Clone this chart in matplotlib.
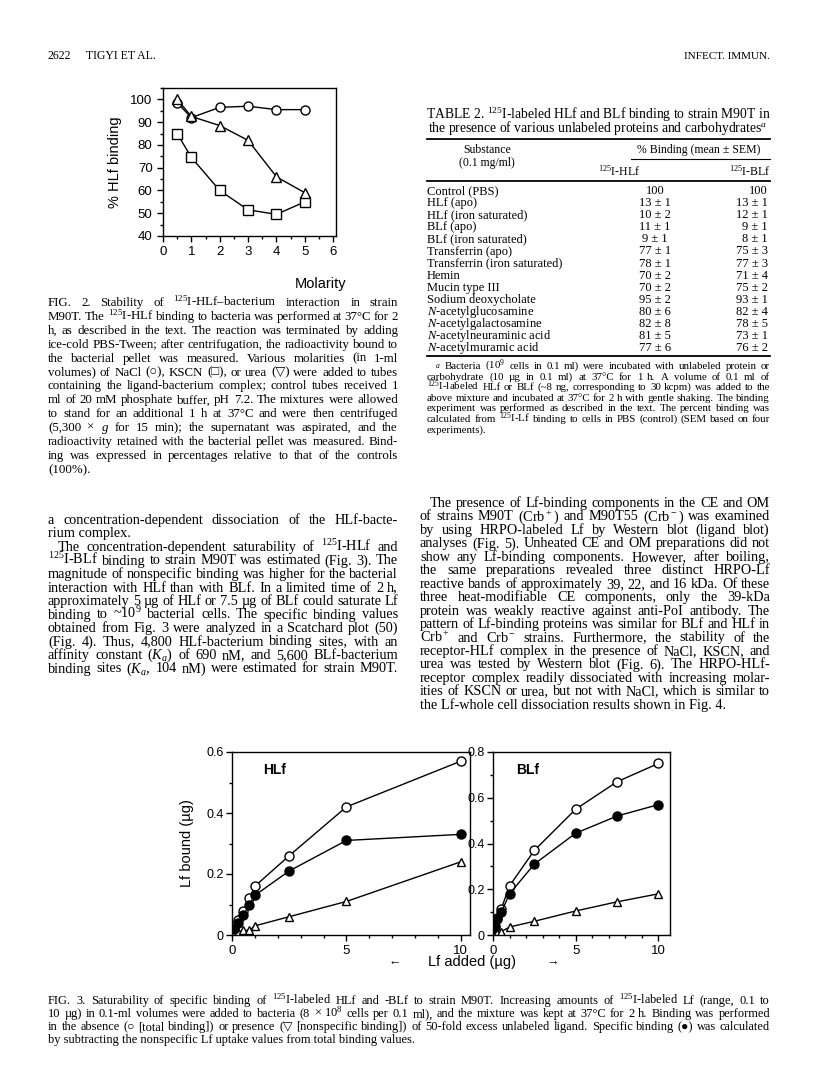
import matplotlib
matplotlib.use('Agg')
import matplotlib.pyplot as plt
import numpy as np
from matplotlib.lines import Line2D
from matplotlib.ticker import MultipleLocator

plt.rcParams['font.family'] = ['Liberation Serif', 'DejaVu Sans']
plt.rcParams['mathtext.fontset'] = 'custom'
plt.rcParams['mathtext.rm'] = 'Liberation Serif'
plt.rcParams['mathtext.it'] = 'Liberation Serif:italic'
plt.rcParams['mathtext.bf'] = 'Liberation Serif:bold'
SANS = ['Liberation Sans', 'DejaVu Sans']

# ---- data: Fig. 2 (molarity vs % HLf binding)
molarity = [0.5, 1, 2, 3, 4, 5]
nacl = [98.5, 92, 96.5, 97, 95.5, 95.5]
kscn = [85, 74.5, 60, 51.5, 49.5, 55]
urea = [100, 92.5, 88.5, 82, 66, 59]

# ---- data: Fig. 3 (Lf added vs Lf bound)
hlf_x = [0.1, 0.25, 0.5, 0.75, 1, 2.5, 5, 10]
hlf_total = [0.03, 0.05, 0.08, 0.12, 0.16, 0.26, 0.42, 0.57]
hlf_spec = [0.02, 0.04, 0.065, 0.10, 0.13, 0.21, 0.31, 0.33]
hlf_nonspec = [0.005, 0.01, 0.015, 0.015, 0.03, 0.06, 0.11, 0.24]
blf_x = [0.1, 0.25, 0.5, 1, 2.5, 5, 7.5, 10]
blf_total = [0.04, 0.075, 0.115, 0.215, 0.37, 0.55, 0.67, 0.75]
blf_spec = [0.035, 0.07, 0.10, 0.18, 0.31, 0.445, 0.52, 0.57]
blf_nonspec = [0.005, 0.01, 0.015, 0.035, 0.06, 0.105, 0.145, 0.18]

# ---- data: Table 2
substances = ['Control (PBS)', 'HLf (apo)', 'HLf (iron saturated)', 'BLf (apo)',
              'BLf (iron saturated)', 'Transferrin (apo)', 'Transferrin (iron saturated)',
              'Hemin', 'Mucin type III', 'Sodium deoxycholate', '$N$-acetylglucosamine',
              '$N$-acetylgalactosamine', '$N$-acetylneuraminic acid', '$N$-acetylmuramic acid']
hlf_vals = ['100', '13 ± 1', '10 ± 2', '11 ± 1', '9 ± 1', '77 ± 1', '78 ± 1', '70 ± 2',
            '70 ± 2', '95 ± 2', '80 ± 6', '82 ± 8', '81 ± 5', '77 ± 6']
blf_vals = ['100', '13 ± 1', '12 ± 1', '9 ± 1', '8 ± 1', '75 ± 3', '77 ± 3', '71 ± 4',
            '75 ± 2', '93 ± 1', '82 ± 4', '78 ± 5', '73 ± 1', '76 ± 2']

# ---- text
fig2_caption = [
    'FIG. 2. Stability of $^{125}$I-HLf–bacterium interaction in strain',
    'M90T. The $^{125}$I-HLf binding to bacteria was performed at 37°C for 2',
    'h, as described in the text. The reaction was terminated by adding',
    'ice-cold PBS-Tween; after centrifugation, the radioactivity bound to',
    'the bacterial pellet was measured. Various molarities (in 1-ml',
    'volumes) of NaCl (○), KSCN (□), or urea (▽) were added to tubes',
    'containing the ligand-bacterium complex; control tubes received 1',
    'ml of 20 mM phosphate buffer, pH 7.2. The mixtures were allowed',
    'to stand for an additional 1 h at 37°C and were then centrifuged',
    '(5,300 × $g$ for 15 min); the supernatant was aspirated, and the',
    'radioactivity retained with the bacterial pellet was measured. Bind-',
    'ing was expressed in percentages relative to that of the controls',
    '(100%).',
]
left_par1 = ['a concentration-dependent dissociation of the HLf-bacte-',
             'rium complex.']
left_par2 = [
    'The concentration-dependent saturability of $^{125}$I-HLf and',
    '$^{125}$I-BLf binding to strain M90T was estimated (Fig. 3). The',
    'magnitude of nonspecific binding was higher for the bacterial',
    'interaction with HLf than with BLf. In a limited time of 2 h,',
    'approximately 5 µg of HLf or 7.5 µg of BLf could saturate Lf',
    'binding to ~10$^9$ bacterial cells. The specific binding values',
    'obtained from Fig. 3 were analyzed in a Scatchard plot (50)',
    '(Fig. 4). Thus, 4,800 HLf-bacterium binding sites, with an',
    'affinity constant ($K_a$) of 690 nM, and 5,600 BLf-bacterium',
    'binding sites ($K_a$, 104 nM) were estimated for strain M90T.',
]
right_par = [
    'The presence of Lf-binding components in the CE and OM',
    'of strains M90T (Crb$^+$) and M90T55 (Crb$^-$) was examined',
    'by using HRPO-labeled Lf by Western blot (ligand blot)',
    'analyses (Fig. 5). Unheated CE and OM preparations did not',
    'show any Lf-binding components. However, after boiling,',
    'the same preparations revealed three distinct HRPO-Lf',
    'reactive bands of approximately 39, 22, and 16 kDa. Of these',
    'three heat-modifiable CE components, only the 39-kDa',
    'protein was weakly reactive against anti-PoI antibody. The',
    'pattern of Lf-binding proteins was similar for BLf and HLf in',
    'Crb$^+$ and Crb$^-$ strains. Furthermore, the stability of the',
    'receptor-HLf complex in the presence of NaCl, KSCN, and',
    'urea was tested by Western blot (Fig. 6). The HRPO-HLf-',
    'receptor complex readily dissociated with increasing molar-',
    'ities of KSCN or urea, but not with NaCl, which is similar to',
    'the Lf-whole cell dissociation results shown in Fig. 4.',
]
table_title = ['TABLE 2. $^{125}$I-labeled HLf and BLf binding to strain M90T in',
               'the presence of various unlabeled proteins and carbohydrates$^a$']
table_note = [
    '$^a$ Bacteria (10$^9$ cells in 0.1 ml) were incubated with unlabeled protein or',
    'carbohydrate (10 µg in 0.1 ml) at 37°C for 1 h. A volume of 0.1 ml of',
    '$^{125}$I-labeled HLf or BLf (~8 ng, corresponding to 30 kcpm) was added to the',
    'above mixture and incubated at 37°C for 2 h with gentle shaking. The binding',
    'experiment was performed as described in the text. The percent binding was',
    'calculated from $^{125}$I-Lf binding to cells in PBS (control) (SEM based on four',
    'experiments).',
]
fig3_caption = [
    'FIG. 3. Saturability of specific binding of $^{125}$I-labeled HLf and -BLf to strain M90T. Increasing amounts of $^{125}$I-labeled Lf (range, 0.1 to',
    '10 µg) in 0.1-ml volumes were added to bacteria (8 × 10$^8$ cells per 0.1 ml), and the mixture was kept at 37°C for 2 h. Binding was performed',
    'in the absence (○ [total binding]) or presence (▽ [nonspecific binding]) of 50-fold excess unlabeled ligand. Specific binding (●) was calculated',
    'by subtracting the nonspecific Lf uptake values from total binding values.',
]

W, H = 816, 1077
fig = plt.figure(figsize=(W / 100, H / 100), dpi=100)
R = fig.canvas.get_renderer()


def natural(s, size):
    t = fig.text(0, 0, s, fontsize=size)
    w = t.get_window_extent(R).width
    t.remove()
    return w


def fit(lines, width, indent=0, n=None, base=10.0):
    # font size at which a typical justified line sets with plain spaces
    n = len(lines) - 1 if n is None else n
    r = [(width - (indent if i == 0 else 0)) / natural(lines[i], base) for i in range(n)]
    return base * float(np.median(r)) * 0.97


def put(xa, xb, y, s, size, just=True, **kw):
    words = s.split(' ')
    if not just or len(words) < 2:
        fig.text(xa / W, 1 - y / H, s, fontsize=size, va='baseline', **kw)
        return
    ts = [fig.text(0, 1 - y / H, w, fontsize=size, va='baseline', **kw) for w in words]
    ws = [t.get_window_extent(R).width for t in ts]
    min_gap = 0.2 * size * 100 / 72
    gap = (xb - xa - sum(ws)) / (len(words) - 1)
    if gap < min_gap:
        f = (xb - xa - min_gap * (len(words) - 1)) / sum(ws)
        for t in ts:
            t.set_fontsize(size * f)
        ws = [t.get_window_extent(R).width for t in ts]
        gap = (xb - xa - sum(ws)) / (len(words) - 1)
    x = xa
    for t, w in zip(ts, ws):
        t.set_x(x / W)
        x += w + gap


def para(lines, x0, x1, y0, dy, size, indent=0, last_just=False):
    for i, s in enumerate(lines):
        just = i < len(lines) - 1 or last_just
        put(x0 + (indent if i == 0 else 0), x1, y0 + i * dy, s, size, just)


def hrule(x0, x1, y, lw=0.8):
    fig.add_artist(Line2D([x0 / W, x1 / W], [1 - y / H] * 2, transform=fig.transFigure,
                          color='k', lw=lw))


def ax_at(l, t, r, b):
    ax = fig.add_axes([l / W, 1 - b / H, (r - l) / W, (b - t) / H])
    ax.tick_params(which='both', direction='out', top=False, right=False,
                   labelsize=9.5, labelfontfamily=SANS, width=1)
    ax.tick_params(which='major', length=4)
    ax.tick_params(which='minor', length=2.5)
    for sp in ax.spines.values():
        sp.set_linewidth(1)
    return ax


# header
fig.text(48 / W, 1 - 59 / H, '2622', fontsize=8.5, va='baseline')
fig.text(86 / W, 1 - 59 / H, 'TIGYI ET AL.', fontsize=8.5, va='baseline')
fig.text(770 / W, 1 - 59 / H, 'INFECT. IMMUN.', fontsize=8, va='baseline', ha='right')

# ---- Fig. 2
ax = ax_at(163, 88, 336, 236)
mk = dict(color='k', lw=1, mfc='white', mec='k', mew=1)
ax.plot(molarity, nacl, marker='o', ms=6.5, **mk)
ax.plot(molarity, kscn, marker='s', ms=7, **mk)
ax.plot(molarity, urea, marker='^', ms=7, **mk)
ax.set_xlim(0, 6.1)
ax.set_ylim(40, 105)
ax.set_xticks(range(7))
ax.set_yticks(range(40, 101, 10))
ax.xaxis.set_minor_locator(MultipleLocator(0.5))
ax.yaxis.set_minor_locator(MultipleLocator(5))
ax.set_ylabel('% HLf binding', fontsize=10.5, family=SANS, labelpad=6)
fig.text(346 / W, 1 - 288 / H, 'Molarity', fontsize=10.5, family=SANS, va='baseline', ha='right')

cap_size = fit(fig2_caption, 350)
para(fig2_caption, 48, 398, 306, 13.9, cap_size)
body_size = fit(left_par2 + right_par[1:], 350)
para(left_par1, 48, 398, 524, 13.5, body_size)
para(left_par2, 48, 398, 551, 13.5, body_size, indent=10, last_just=True)

# ---- Table 2
title_size = fit(table_title, 343, n=1) / 0.97
for i, s in enumerate(table_title):
    fig.text(598 / W, 1 - (119 + 13 * i) / H, s, fontsize=title_size, va='baseline', ha='center')
hrule(427, 770, 139, 1.3)
fig.text(487 / W, 1 - 153 / H, 'Substance', fontsize=8.5, va='baseline', ha='center')
fig.text(487 / W, 1 - 166 / H, '(0.1 mg/ml)', fontsize=8.5, va='baseline', ha='center')
fig.text(699 / W, 1 - 153 / H, '% Binding (mean ± SEM)', fontsize=8.5, va='baseline', ha='center')
hrule(631, 770, 159, 0.8)
fig.text(598 / W, 1 - 176 / H, '$^{125}$I-HLf', fontsize=8.5, va='baseline')
fig.text(770 / W, 1 - 176 / H, '$^{125}$I-BLf', fontsize=8.5, va='baseline', ha='right')
hrule(427, 770, 181, 1.3)
for i, (s, a, b) in enumerate(zip(substances, hlf_vals, blf_vals)):
    y = 1 - (194 + 12.1 * i) / H
    fig.text(427 / W, y, s, fontsize=9, va='baseline')
    fig.text(655 / W, y, a, fontsize=9, va='baseline', ha='center')
    fig.text(768 / W, y, b, fontsize=9, va='baseline', ha='right')
hrule(427, 770, 356, 1.3)
note_size = fit(table_note, 343, indent=8)
para(table_note, 427, 770, 369, 10.6, note_size, indent=8)

para(right_par, 420, 770, 507, 13.45, body_size, indent=10)

# ---- Fig. 3
for (l, r, xs, tot, spec, non, ymax, name) in [
        (232, 470, hlf_x, hlf_total, hlf_spec, hlf_nonspec, 0.6, 'HLf'),
        (493, 670, blf_x, blf_total, blf_spec, blf_nonspec, 0.8, 'BLf')]:
    ax = ax_at(l, 752, r, 935)
    ax.plot(xs, non, marker='^', ms=6, **mk)
    ax.plot(xs, tot, marker='o', ms=6.5, **mk)
    ax.plot(xs, spec, marker='o', ms=6.5, color='k', lw=1, mfc='k', mec='k')
    ax.set_xlim(0, 10.4 if name == 'HLf' else 10.7)
    ax.set_ylim(0, ymax)
    ax.set_xticks([0, 5, 10])
    ax.xaxis.set_minor_locator(MultipleLocator(1))
    ax.set_yticks([v / 10 for v in range(0, int(ymax * 10) + 1, 2)])
    ax.set_yticklabels(['0'] + ['%.1f' % (v / 10) for v in range(2, int(ymax * 10) + 1, 2)])
    ax.yaxis.set_minor_locator(MultipleLocator(0.1))
    ax.tick_params(axis='y', pad=2, labelsize=9)
    ax.tick_params(axis='x', labelsize=9.5)
    ax.text(0.13, 0.88, name, transform=ax.transAxes, fontsize=10, fontweight='bold', family=SANS)
    if name == 'HLf':
        ax.set_ylabel('Lf bound (µg)', fontsize=10.5, family=SANS, labelpad=9)

fig.text(395 / W, 1 - 966 / H, '←', fontsize=9, family=SANS, va='baseline', ha='center')
fig.text(472 / W, 1 - 966 / H, 'Lf added (µg)', fontsize=10.5, family=SANS, va='baseline', ha='center')
fig.text(553 / W, 1 - 966 / H, '→', fontsize=9, family=SANS, va='baseline', ha='center')

cap3_size = fit(fig3_caption, 722)
para(fig3_caption, 48, 770, 1004, 13, cap3_size)

fig.savefig('out.png', dpi=100)
